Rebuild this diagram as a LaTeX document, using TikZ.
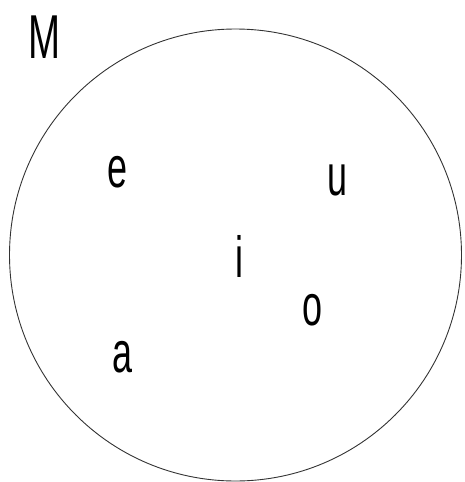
\documentclass[tikz,border=0pt]{standalone}
\usepackage{fontspec}
\setmainfont{Liberation Sans}
\usepackage{tikz}
\usetikzlibrary{positioning}

\begin{document}
\begin{tikzpicture}[
        x=1pt, y=-1pt,
        setline/.style={draw=black!80, line width=0.9pt},
        letter/.style={anchor=base, inner sep=0pt, font=\fontsize{58}{60}\selectfont},
        setname/.style={letter, font=\fontsize{62}{64}\selectfont}
    ]
        \useasboundingbox (0,0) rectangle (464,482);

        % THE SET
        \draw[setline] (235.5,255) circle[radius=226];
        \node[setname] (M) at (45,58) {\scalebox{0.62}[1]{M}};

        % ELEMENTS
        \node[letter] (e) at (117,187) {\scalebox{0.62}[1]{e}};
        \node[letter] (u) at (337,195) {\scalebox{0.62}[1]{u}};
        \node[letter] (i) at (239,277) {\scalebox{0.62}[1]{i}};
        \node[letter] (o) at (312,325) {\scalebox{0.62}[1]{o}};
        \node[letter] (a) at (122,372) {\scalebox{0.62}[1]{a}};
    \end{tikzpicture}
\end{document}
